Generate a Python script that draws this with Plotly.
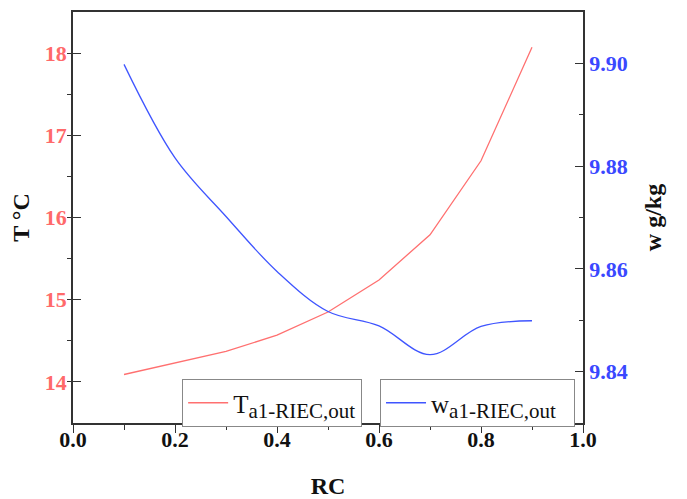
import plotly.graph_objects as go

rc = [0.1, 0.2, 0.3, 0.4, 0.5, 0.6, 0.7, 0.8, 0.9]
t_out = [14.09, 14.23, 14.37, 14.57, 14.85, 15.24, 15.79, 16.69, 18.07]
w_out = [9.8998, 9.8816, 9.8702, 9.8595, 9.8517, 9.8489, 9.8433, 9.8488, 9.8499]

x_ticks = [0.0, 0.2, 0.4, 0.6, 0.8, 1.0]
t_ticks = [14, 15, 16, 17, 18]
w_ticks = [9.84, 9.86, 9.88, 9.90]

RED = "#FF7070"
RED_TXT = "#FF6A6A"
BLUE = "#3F55FF"
BLUE_TXT = "#3A48FF"
AX = "#333333"
FONT = "Liberation Serif"

SUB = "<sub><span style='font-size:21px'>a1-RIEC,out</span></sub>"

fig = go.Figure()
fig.add_trace(go.Scatter(
    x=rc, y=t_out, mode="lines", line=dict(color=RED, width=1.3),
    name="T" + SUB, legend="legend", yaxis="y", showlegend=True))
fig.add_trace(go.Scatter(
    x=rc, y=w_out, mode="lines", line=dict(color=BLUE, width=1.3, shape="spline", smoothing=1.0),
    name="w" + SUB + "&nbsp;&nbsp;", legend="legend2", yaxis="y2", showlegend=True))

legend_style = dict(
    bgcolor="white", bordercolor="#888888", borderwidth=1,
    font=dict(family=FONT, size=25, color="#111111"),
    xanchor="left", yanchor="top", itemwidth=40, visible=True,
)

# page body has an 8px margin, so the figure is shrunk by 8px
fig.update_layout(
    width=679, height=491,
    margin=dict(l=65, r=104, t=4, b=76),
    plot_bgcolor="white", paper_bgcolor="white",
    font=dict(family=FONT),
    showlegend=True,
    legend=dict(x=0.214, y=0.107, **legend_style),
    legend2=dict(x=0.602, y=0.107, **legend_style),
    xaxis=dict(
        range=[0, 1], tickvals=x_ticks, ticktext=[f"<b>{v:.1f}</b>" for v in x_ticks],
        showline=True, linecolor=AX, linewidth=1.5, mirror=True, automargin=False,
        ticks="outside", ticklen=8, tickwidth=1.2, tickcolor=AX,
        minor=dict(dtick=0.1, ticks="outside", ticklen=5, tickcolor=AX),
        showgrid=False, zeroline=False,
        tickfont=dict(family=FONT, size=22, color="#111111"),
        title=dict(text="<b>RC</b>", font=dict(family=FONT, size=24, color="#111111"), standoff=28),
    ),
    yaxis=dict(
        range=[13.5, 18.5], tickvals=t_ticks, ticktext=[f"<b>{v}</b>" for v in t_ticks],
        showline=True, linecolor=AX, linewidth=1.5, automargin=False,
        ticks="inside", ticklen=8, tickwidth=1.2, tickcolor=AX,
        minor=dict(dtick=0.5, ticks="outside", ticklen=4, tickcolor=AX),
        showgrid=False, zeroline=False,
        tickfont=dict(family=FONT, size=22, color=RED_TXT),
        title=dict(text="<b>T °C</b>", font=dict(family=FONT, size=24, color="#111111"), standoff=10),
    ),
    yaxis2=dict(
        range=[9.83, 9.91], tickvals=w_ticks, ticktext=[f"<b>{v:.2f}</b>" for v in w_ticks],
        overlaying="y", side="right", automargin=False,
        showline=True, linecolor=AX, linewidth=1.5,
        ticks="inside", ticklen=8, tickwidth=1.2, tickcolor=AX,
        minor=dict(dtick=0.01, ticks="inside", ticklen=4, tickcolor=AX),
        showgrid=False, zeroline=False,
        tickfont=dict(family=FONT, size=22, color=BLUE_TXT),
        title=dict(text="<b>w g/kg</b>", font=dict(family=FONT, size=24, color="#111111"), standoff=18),
    ),
)

try:
    fig.update_xaxes(ticklabelstandoff=-12)
except Exception:
    pass

fig.write_html("out.html")
